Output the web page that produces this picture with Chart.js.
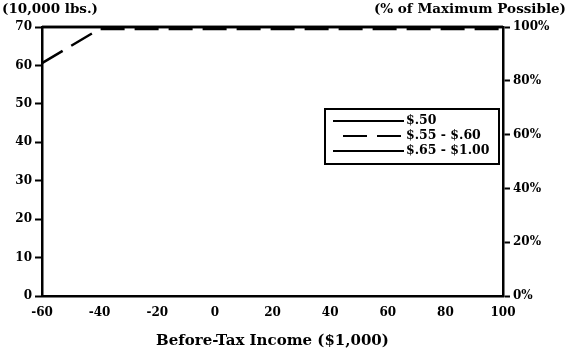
<!DOCTYPE html>
<html>
<head>
<meta charset="utf-8">
<script src="https://cdn.jsdelivr.net/npm/chart.js@4"></script>
<style>
  html, body { margin: 0; padding: 0; background: #fff; }
  #wrap { width: 568px; height: 354px; }
</style>
</head>
<body>
<div id="wrap"><canvas id="weightChart" width="568" height="354"></canvas></div>
<script>
// income levels ($1,000) and the three price series (10,000 lbs.)
const income = [-60, -40, -20, 0, 20, 40, 60, 80, 100];
const price50 = [70, 70, 70, 70, 70, 70, 70, 70, 70];
const price55 = [60.6, 69.5, 69.5, 69.5, 69.5, 69.5, 69.5, 69.5, 69.5];
const price65 = [70, 70, 70, 70, 70, 70, 70, 70, 70];
const seriesNames = ["$.50", "$.55 - $.60", "$.65 - $1.00"];
const leftTicks = [0, 10, 20, 30, 40, 50, 60, 70];
const rightTicks = [0, 20, 40, 60, 80, 100];

const font = "'DejaVu Serif', serif";

function points(vals) {
  return vals.map((v, i) => ({ x: income[i], y: v }));
}

// titles above the two y axes
const topLabels = {
  id: 'topLabels',
  afterDraw(chart) {
    const ctx = chart.ctx;
    ctx.save();
    ctx.fillStyle = '#000';
    ctx.font = "bold 13.5px " + font;
    ctx.textBaseline = 'middle';
    ctx.textAlign = 'left';
    ctx.fillText('(10,000 lbs.)', 2, 9);
    ctx.textAlign = 'right';
    ctx.fillText('(% of Maximum Possible)', 566, 9);
    ctx.restore();
  }
};

// boxed legend inside the plot
const boxLegend = {
  id: 'boxLegend',
  afterDraw(chart) {
    const ctx = chart.ctx;
    const x = 325, y = 109, w = 174, h = 55;
    ctx.save();
    ctx.fillStyle = '#fff';
    ctx.fillRect(x, y, w, h);
    ctx.strokeStyle = '#000';
    ctx.lineWidth = 2;
    ctx.strokeRect(x, y, w, h);
    ctx.font = "bold 12.5px " + font;
    ctx.textBaseline = 'middle';
    ctx.textAlign = 'left';
    chart.data.datasets.forEach((ds, i) => {
      const ly = y + 12 + i * 15;
      ctx.beginPath();
      ctx.setLineDash(ds.borderDash || []);
      ctx.lineDashOffset = ds.borderDash ? -10 : 0;
      ctx.lineWidth = 2;
      ctx.moveTo(x + 8, ly);
      ctx.lineTo(x + 79, ly);
      ctx.stroke();
      ctx.setLineDash([]);
      ctx.fillStyle = '#000';
      ctx.fillText(ds.label, x + 81, ly);
    });
    ctx.restore();
  }
};

new Chart(document.getElementById('weightChart'), {
  type: 'line',
  data: {
    datasets: [
      { label: seriesNames[0], data: points(price50), borderColor: '#000', borderWidth: 2.5, pointRadius: 0, yAxisID: 'y' },
      { label: seriesNames[1], data: points(price55), borderColor: '#000', borderWidth: 2.5, borderDash: [24, 10], pointRadius: 0, yAxisID: 'y' },
      { label: seriesNames[2], data: points(price65), borderColor: '#000', borderWidth: 2.5, pointRadius: 0, yAxisID: 'y' }
    ]
  },
  options: {
    responsive: false,
    animation: false,
    clip: false,
    layout: { padding: { top: 27, left: 0, right: 0, bottom: 0 } },
    plugins: { legend: { display: false }, tooltip: { enabled: false } },
    scales: {
      x: {
        type: 'linear',
        min: -60, max: 100,
        afterBuildTicks: s => { s.ticks = income.map(v => ({ value: v })); },
        grid: { display: false, drawOnChartArea: false, drawTicks: true, tickLength: 5, tickColor: '#000', tickWidth: 2 },
        border: { display: true, color: '#000', width: 2.5 },
        ticks: { color: '#000', padding: 5, font: { family: font, weight: 'bold', size: 12 }, maxRotation: 0 },
        title: { display: true, text: 'Before-Tax Income ($1,000)', color: '#000', padding: { top: 10 }, font: { family: font, weight: 'bold', size: 15 } },
        afterFit: s => { s.height = 58; }
      },
      y: {
        position: 'left',
        min: 0, max: 70,
        afterBuildTicks: s => { s.ticks = leftTicks.map(v => ({ value: v })); },
        grid: { drawOnChartArea: false, tickLength: 7, tickColor: '#000', tickWidth: 2 },
        border: { display: true, color: '#000', width: 2.5 },
        ticks: { color: '#000', padding: 3, font: { family: font, weight: 'bold', size: 12 } },
        afterFit: s => { s.width = 42; }
      },
      y2: {
        position: 'right',
        min: 0, max: 100,
        afterBuildTicks: s => { s.ticks = rightTicks.map(v => ({ value: v })); },
        grid: { drawOnChartArea: false, tickLength: 7, tickColor: '#000', tickWidth: 2 },
        border: { display: true, color: '#000', width: 2.5 },
        ticks: { color: '#000', padding: 3, font: { family: font, weight: 'bold', size: 12 }, callback: v => v + '%' },
        afterFit: s => { s.width = 65; }
      }
    }
  },
  plugins: [topLabels, boxLegend]
});
</script>
</body>
</html>
